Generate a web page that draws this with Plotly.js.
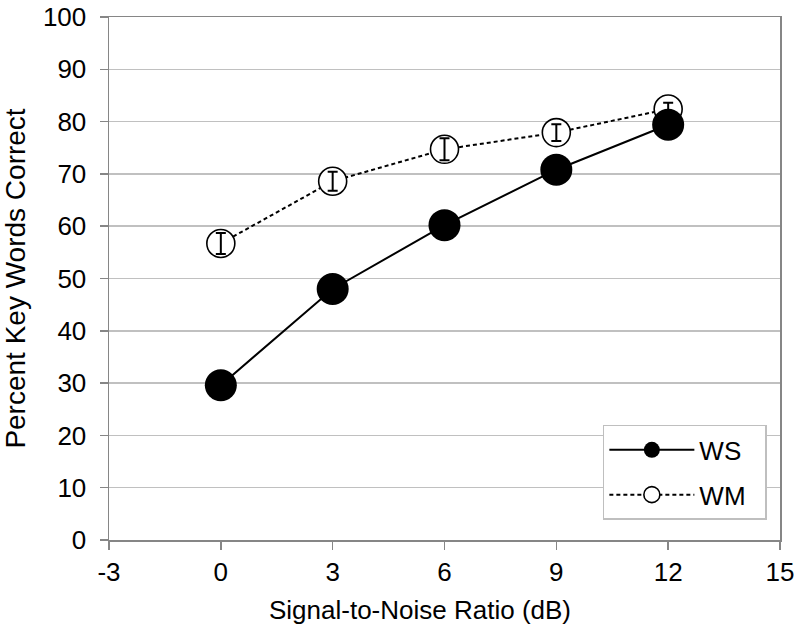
<!DOCTYPE html>
<html>
<head>
<meta charset="utf-8">
<script src="https://cdn.plot.ly/plotly-3.0.1.min.js"></script>
<style>html,body{margin:0;padding:0;background:#fff;}#chart{width:797px;height:633px;}</style>
</head>
<body>
<div id="chart"></div>
<script>
const snr = [0, 3, 6, 9, 12];
const wsValues = [29.6, 48.0, 60.2, 70.8, 79.4];
const wmValues = [56.7, 68.6, 74.7, 77.9, 82.4];
const wmErrors = [2.0, 1.8, 2.1, 1.6, 1.2];
const xTicks = [-3, 0, 3, 6, 9, 12, 15];
const yTicks = [0, 10, 20, 30, 40, 50, 60, 70, 80, 90, 100];
const seriesNames = ['WS', 'WM'];
const xTitle = 'Signal-to-Noise Ratio (dB)';
const yTitle = 'Percent Key Words Correct';

const font = 'Liberation Sans, Arial, sans-serif';
const pad = '\u00a0\u00a0';

const traces = [
  {
    x: snr, y: wmValues, name: seriesNames[1] + pad, type: 'scatter', mode: 'lines+markers',
    legendgroup: 'b', legendrank: 2,
    line: {color: '#000', width: 2, dash: '4px,3px'},
    marker: {symbol: 'circle', size: 28, color: '#fff', line: {color: '#000', width: 1.6}}
  },
  {
    x: snr, y: wmValues, name: 'WM error', type: 'scatter', mode: 'markers',
    showlegend: false, hoverinfo: 'skip',
    marker: {size: 1, color: 'rgba(0,0,0,0)'},
    error_y: {type: 'data', array: wmErrors, visible: true, color: '#000', thickness: 2, width: 5}
  },
  {
    x: snr, y: wsValues, name: seriesNames[0] + pad, type: 'scatter', mode: 'lines+markers',
    legendgroup: 'a', legendrank: 1,
    line: {color: '#000', width: 2},
    marker: {symbol: 'circle', size: 32, color: '#000'}
  }
];

const layout = {
  width: 797, height: 633,
  margin: {l: 109, r: 17, t: 17, b: 93},
  paper_bgcolor: '#fff', plot_bgcolor: '#fff',
  font: {family: font, color: '#000', size: 26},
  showlegend: true,
  legend: {
    x: 0.736, y: 0.22, xanchor: 'left', yanchor: 'top',
    bgcolor: '#fff', bordercolor: '#bfbfbf', borderwidth: 1.5,
    font: {family: font, size: 26, color: '#000'},
    traceorder: 'grouped', tracegroupgap: 8, itemwidth: 85
  },
  xaxis: {
    range: [-3, 15], tickvals: xTicks, ticktext: xTicks.map(String),
    showgrid: false, zeroline: false,
    showline: true, linecolor: '#868686', linewidth: 1.5, mirror: true,
    ticks: 'outside', ticklen: 8, tickcolor: '#868686', tickwidth: 1.5,
    tickfont: {family: font, size: 26, color: '#000'}
  },
  yaxis: {
    range: [0, 100], tickvals: yTicks, ticktext: yTicks.map(String),
    showgrid: true, gridcolor: '#c0c0c0', gridwidth: 1.5, zeroline: false,
    showline: true, linecolor: '#868686', linewidth: 1.5, mirror: true,
    ticks: 'outside', ticklen: 8, tickcolor: '#868686', tickwidth: 1.5,
    ticklabelstandoff: 8, ticklabeloverflow: 'allow',
    tickfont: {family: font, size: 26, color: '#000'},
    title: {text: yTitle, font: {family: font, size: 28, color: '#000'}, standoff: 24}
  },
  annotations: [
    {
      text: xTitle, xref: 'paper', yref: 'paper', x: 0.4635, y: -0.134,
      xanchor: 'center', yanchor: 'middle', showarrow: false,
      font: {family: font, size: 26, color: '#000'}
    }
  ]
};

Plotly.newPlot('chart', traces, layout, {displayModeBar: false, staticPlot: true});
</script>
</body>
</html>
